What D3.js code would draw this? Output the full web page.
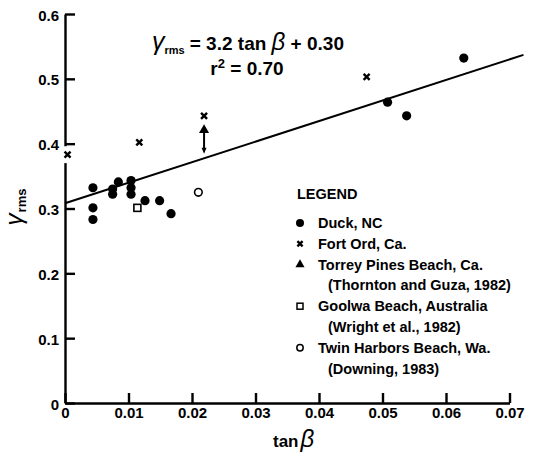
<!DOCTYPE html>
<html>
<head>
<meta charset="utf-8">
<script src="https://cdn.jsdelivr.net/npm/d3@7"></script>
<style>
  body { margin: 0; background: #fff; }
  text { font-family: "Liberation Sans", Arial, sans-serif; font-weight: bold; fill: #000; }
</style>
</head>
<body>
<script>
// data
const duckX = [0.0044, 0.0044, 0.0044, 0.0075, 0.0075, 0.0084, 0.0104, 0.0104, 0.0104, 0.0126, 0.0149, 0.0167, 0.0508, 0.0538, 0.0628];
const duckY = [0.332, 0.301, 0.283, 0.330, 0.322, 0.341, 0.343, 0.332, 0.322, 0.312, 0.312, 0.292, 0.464, 0.443, 0.532];
const fortX = [0.0004, 0.0117, 0.0219, 0.0475];
const fortY = [0.383, 0.402, 0.443, 0.503];
const torreyX = [0.0219];
const torreyY = [0.421];
const torreyLow = [0.386];
const goolwaX = [0.0114];
const goolwaY = [0.301];
const twinX = [0.021];
const twinY = [0.325];
const fitX = [0, 0.0722];
const fitY = [0.308, 0.537];
const xTicks = [0, 0.01, 0.02, 0.03, 0.04, 0.05, 0.06, 0.07];
const yTicks = [0, 0.1, 0.2, 0.3, 0.4, 0.5, 0.6];
const legendRows = [
  ["duck", "Duck, NC"],
  ["fort", "Fort Ord, Ca."],
  ["torrey", "Torrey Pines Beach, Ca."],
  [null, "(Thornton and Guza, 1982)"],
  ["goolwa", "Goolwa Beach, Australia"],
  [null, "(Wright et al., 1982)"],
  ["twin", "Twin Harbors Beach, Wa."],
  [null, "(Downing, 1983)"]
];

const width = 535, height = 455;

const svg = d3.select("body").append("svg")
  .attr("width", width).attr("height", height);

const x = d3.scaleLinear().domain([0, 0.07]).range([65, 509.5]);
const y = d3.scaleLinear().domain([0, 0.6]).range([403, 14]);

// axes
const xAxis = svg.append("g")
  .attr("transform", `translate(0,${y(0)})`)
  .call(d3.axisBottom(x).tickValues(xTicks).tickSize(-10).tickSizeOuter(0).tickPadding(4)
    .tickFormat(d => d === 0 ? "0" : d3.format(".2f")(d)));

const yAxis = svg.append("g")
  .attr("transform", `translate(${x(0)},0)`)
  .call(d3.axisLeft(y).tickValues(yTicks).tickSize(-10).tickSizeOuter(0).tickPadding(6)
    .tickFormat(d => d === 0 ? "0" : d3.format(".1f")(d)));

svg.selectAll(".domain, .tick line").attr("stroke", "#000").attr("stroke-width", 2.4);
svg.selectAll(".tick text").style("font-size", "15px").attr("fill", "#000");
yAxis.selectAll(".tick text").attr("dy", "0.4em");

// break in the y axis where the Fort Ord point sits
svg.append("rect")
  .attr("x", x(0) - 4).attr("width", 8)
  .attr("y", y(0.396)).attr("height", y(0.37) - y(0.396))
  .attr("fill", "#fff");

// axis titles
svg.append("text")
  .attr("x", 273).attr("y", 446.5)
  .style("font-size", "17px")
  .text("tan")
  .append("tspan")
  .attr("dx", 2)
  .style("font-style", "italic").style("font-size", "24px").style("font-weight", "normal")
  .text("β");

const yt = svg.append("text")
  .attr("transform", "translate(22,207) rotate(-90)")
  .attr("text-anchor", "middle");
yt.append("tspan").style("font-style", "italic").style("font-size", "24px").style("font-weight", "normal").text("γ");
yt.append("tspan").attr("dy", 4).attr("dx", 1).style("font-size", "13px").text("rms");

// regression line
svg.append("line")
  .attr("x1", x(fitX[0])).attr("y1", y(fitY[0]))
  .attr("x2", x(fitX[1])).attr("y2", y(fitY[1]))
  .attr("stroke", "#000").attr("stroke-width", 2);

// equation
const eq = svg.append("text")
  .attr("x", 248).attr("y", 50)
  .attr("text-anchor", "middle")
  .style("font-size", "19px");
eq.append("tspan").style("font-style", "italic").style("font-size", "25px").style("font-weight", "normal").text("γ");
eq.append("tspan").attr("dy", 4).style("font-size", "11px").text("rms");
eq.append("tspan").attr("dy", -4).attr("dx", 5).text("= 3.2 tan ");
eq.append("tspan").style("font-style", "italic").style("font-size", "24px").style("font-weight", "normal").text("β");
eq.append("tspan").text(" + 0.30");

const r2 = svg.append("text")
  .attr("x", 247).attr("y", 74.5)
  .attr("text-anchor", "middle")
  .style("font-size", "19px");
r2.append("tspan").text("r");
r2.append("tspan").attr("dy", -7).style("font-size", "13px").text("2");
r2.append("tspan").attr("dy", 7).text(" = 0.70");

// markers
function cross(g, cx, cy, s) {
  g.append("path")
    .attr("d", `M${cx - s},${cy - s}L${cx + s},${cy + s}M${cx - s},${cy + s}L${cx + s},${cy - s}`)
    .attr("stroke", "#000").attr("stroke-width", 2.4);
}
const tri = d3.symbol().type(d3.symbolTriangle).size(44);

const marks = svg.append("g");

marks.selectAll(".duck").data(duckX).join("circle")
  .attr("cx", d => x(d)).attr("cy", (d, i) => y(duckY[i])).attr("r", 4.6).attr("fill", "#000");

fortX.forEach((d, i) => cross(marks, x(d), y(fortY[i]), 3));

// Torrey Pines: triangle with arrow-bar down to lower bound
torreyX.forEach((d, i) => {
  const cx = x(d);
  marks.append("line")
    .attr("x1", cx).attr("x2", cx)
    .attr("y1", y(torreyY[i])).attr("y2", y(torreyLow[i]) - 3)
    .attr("stroke", "#000").attr("stroke-width", 2);
  marks.append("path")
    .attr("d", `M${cx - 2.5},${y(torreyLow[i]) - 5}L${cx + 2.5},${y(torreyLow[i]) - 5}L${cx},${y(torreyLow[i]) + 1}Z`)
    .attr("fill", "#000");
  marks.append("path").attr("d", tri).attr("transform", `translate(${cx},${y(torreyY[i])})`).attr("fill", "#000");
});

marks.selectAll(".goolwa").data(goolwaX).join("rect")
  .attr("x", d => x(d) - 3.5).attr("y", (d, i) => y(goolwaY[i]) - 3.5)
  .attr("width", 7).attr("height", 7)
  .attr("fill", "#fff").attr("stroke", "#000").attr("stroke-width", 1.6);

marks.selectAll(".twin").data(twinX).join("circle")
  .attr("cx", d => x(d)).attr("cy", (d, i) => y(twinY[i])).attr("r", 3.8)
  .attr("fill", "#fff").attr("stroke", "#000").attr("stroke-width", 1.6);

// legend
const lg = svg.append("g");
lg.append("text").attr("x", 297).attr("y", 199).style("font-size", "14.5px").text("LEGEND");

legendRows.forEach(([sym, label], i) => {
  const by = 228 + i * 20.8;
  const my = by - 5;
  lg.append("text")
    .attr("x", sym ? 318 : 328).attr("y", by)
    .style("font-size", "14.5px")
    .text(label);
  if (sym === "duck") lg.append("circle").attr("cx", 300).attr("cy", my).attr("r", 4).attr("fill", "#000");
  if (sym === "fort") cross(lg, 300, my, 2.6);
  if (sym === "torrey") lg.append("path").attr("d", d3.symbol().type(d3.symbolTriangle).size(36)).attr("transform", `translate(300,${my})`).attr("fill", "#000");
  if (sym === "goolwa") lg.append("rect").attr("x", 297).attr("y", my - 3).attr("width", 6).attr("height", 6)
    .attr("fill", "#fff").attr("stroke", "#000").attr("stroke-width", 1.5);
  if (sym === "twin") lg.append("circle").attr("cx", 300).attr("cy", my).attr("r", 3.2)
    .attr("fill", "#fff").attr("stroke", "#000").attr("stroke-width", 1.5);
});
</script>
</body>
</html>
